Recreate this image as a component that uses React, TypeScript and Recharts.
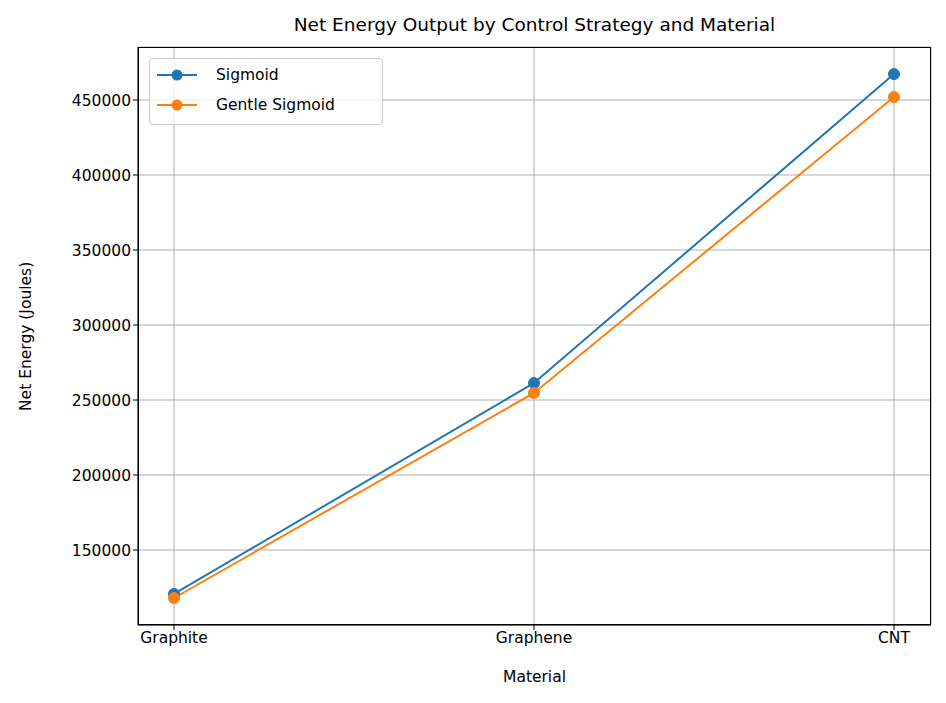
import React from "react";
import { LineChart, Line, XAxis, YAxis, CartesianGrid } from "recharts";

const materials = ["Graphite", "Graphene", "CNT"];
const sigmoid = [120700, 261300, 467300];
const gentleSigmoid = [118000, 254700, 452000];
const yTicks = [150000, 200000, 250000, 300000, 350000, 400000, 450000];

const data = materials.map((m, i) => ({
  name: m,
  sigmoid: sigmoid[i],
  gentle: gentleSigmoid[i],
}));

const font = "DejaVu Sans, sans-serif";

export default function App() {
  return (
    <div style={{ position: "relative", width: 946, height: 703, fontFamily: font, margin: -8 }}>
      <LineChart
        width={946}
        height={703}
        data={data}
        margin={{ top: 47, right: 15, bottom: 48, left: 68 }}
      >
        <CartesianGrid stroke="#b0b0b0" strokeWidth={1} />
        <XAxis
          dataKey="name"
          padding={{ left: 36, right: 37 }}
          tick={{ fill: "#000", fontSize: 15.5, fontFamily: font }}
          tickLine={{ stroke: "#000" }}
          axisLine={{ stroke: "#000" }}
          tickSize={5}
          height={30}
          label={{ value: "Material", position: "insideBottom", offset: -27, fill: "#000", fontSize: 15.5, fontFamily: font }}
        />
        <YAxis
          domain={[100000, 485333]}
          ticks={yTicks}
          tick={{ fill: "#000", fontSize: 15.5, fontFamily: font }}
          tickLine={{ stroke: "#000" }}
          axisLine={{ stroke: "#000" }}
          tickSize={5}
          width={70}
          label={{ value: "Net Energy (Joules)", angle: -90, position: "insideLeft", offset: -43, dy: 75, fill: "#000", fontSize: 15.5, fontFamily: font }}
        />
        <Line
          dataKey="sigmoid"
          stroke="#1f77b4"
          strokeWidth={2}
          dot={{ r: 5.5, fill: "#1f77b4", stroke: "#1f77b4", strokeWidth: 1 }}
          isAnimationActive={false}
        />
        <Line
          dataKey="gentle"
          stroke="#ff7f0e"
          strokeWidth={2}
          dot={{ r: 5.5, fill: "#ff7f0e", stroke: "#ff7f0e", strokeWidth: 1 }}
          isAnimationActive={false}
        />
      </LineChart>
      <div style={{ position: "absolute", left: 138, top: 47, width: 793, height: 578, border: "1px solid #000", boxSizing: "border-box", pointerEvents: "none" }} />
      <div style={{ position: "absolute", left: 138, width: 793, top: 14, textAlign: "center", fontSize: 18.5 }}>
        Net Energy Output by Control Strategy and Material
      </div>
      <div style={{ position: "absolute", left: 149, top: 58, width: 234, height: 67, border: "1px solid #ccc", borderRadius: 4, background: "rgba(255,255,255,0.8)", boxSizing: "border-box", fontSize: 15.5 }}>
        {[["Sigmoid", "#1f77b4"], ["Gentle Sigmoid", "#ff7f0e"]].map(([label, c], i) => (
          <div key={label} style={{ position: "absolute", left: 7, top: 7 + i * 30, display: "flex", alignItems: "center" }}>
            <svg width={40} height={18}>
              <line x1={0} y1={9} x2={40} y2={9} stroke={c} strokeWidth={2} />
              <circle cx={20} cy={9} r={5.5} fill={c} />
            </svg>
            <span style={{ marginLeft: 19 }}>{label}</span>
          </div>
        ))}
      </div>
    </div>
  );
}
